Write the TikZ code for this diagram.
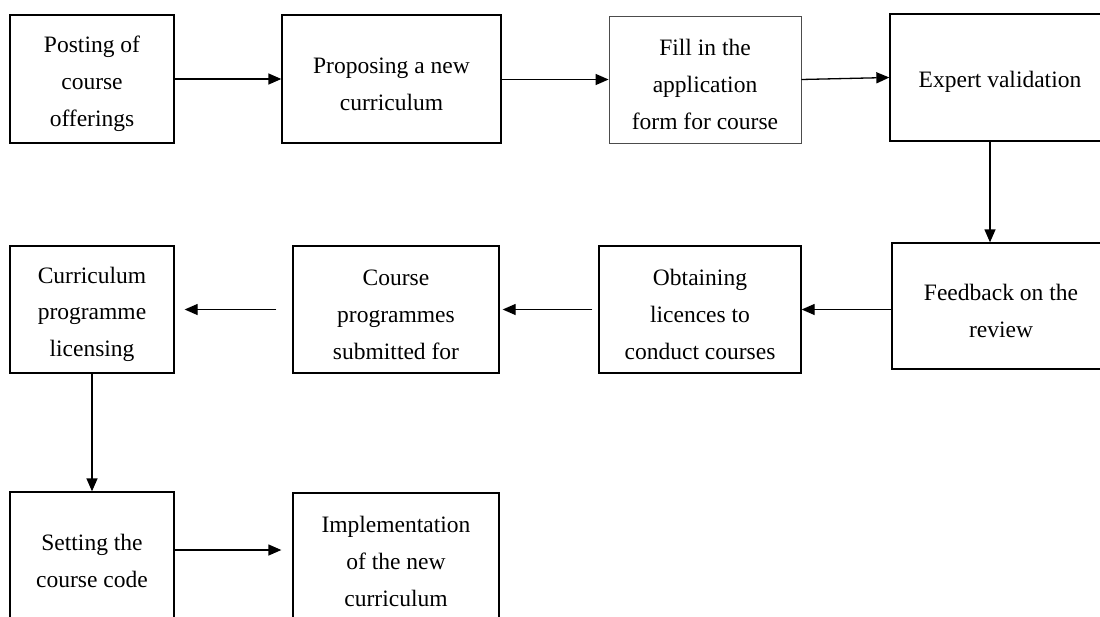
\documentclass[tikz,border=0pt]{standalone}
\usepackage{fontspec}
\setmainfont{Liberation Serif}
\usepackage{tikz}
\usetikzlibrary{arrows.meta,calc}

\newcommand{\stagestrut}{\rule{0pt}{26pt}}

\begin{document}
\begin{tikzpicture}[
  stage/.style={draw,line width=1.3bp,align=center,inner sep=0pt,
    font=\fontsize{23.6}{37}\selectfont},
  flow/.style={-{Triangle[length=13bp,width=11bp]},line width=1.3bp}]

\useasboundingbox (0,0) rectangle (1100bp,-617bp);
\clip (0,0) rectangle (1100bp,-617bp);

\node (post) at (92bp,-79bp)[stage,minimum width=164bp,minimum height=128bp] {\stagestrut Posting of\\course\\offerings};
\node (propose) at (391.5bp,-79bp)[stage,minimum width=219bp,minimum height=128bp] {\stagestrut Proposing a new\\curriculum};
\node (fill) at (705bp,-79.5bp)[stage,draw=black!70,line width=0.8bp,minimum width=192bp,minimum height=127bp] {\stagestrut Fill in the\\application\\form for course};
\node (expert) at (1000bp,-77.5bp)[stage,minimum width=220bp,minimum height=127bp] {\stagestrut Expert validation};
\node (feedback) at (1001bp,-306bp)[stage,minimum width=218bp,minimum height=126bp] {\stagestrut Feedback on the\\review};
\node (obtain) at (700bp,-309.5bp)[stage,minimum width=202bp,minimum height=127bp] {\stagestrut Obtaining\\licences to\\conduct courses};
\node (submit) at (396bp,-309.5bp)[stage,minimum width=206bp,minimum height=127bp] {\stagestrut Course\\programmes\\submitted for};
\node (licensing) at (92bp,-309.5bp)[stage,minimum width=164bp,minimum height=127bp] {\stagestrut Curriculum\\programme\\licensing};
\node (code) at (92bp,-556bp)[stage,minimum width=164bp,minimum height=128bp] {\stagestrut Setting the\\course code};
\node (impl) at (396bp,-557bp)[stage,minimum width=206bp,minimum height=128bp] {\stagestrut Implementation\\of the new\\curriculum};

% top row
\draw [flow] (post) -- (propose);
\draw [flow] (propose.east |- fill) -- (fill);
\draw [flow] (fill.east) -- (expert.west);
\draw [flow] ([xshift=-10bp]expert.south) -- ([xshift=-10bp]expert.south |- feedback.north);

% middle row, right to left
\draw [flow] (feedback.west |- obtain.east) -- (obtain.east);
\draw [flow,shorten <=6bp,shorten >=3bp] (obtain.west) -- (submit.east);
\draw [flow,shorten <=16bp,shorten >=10bp] (submit.west) -- (licensing.east);

% bottom row
\draw [flow] (licensing) -- (code);
\draw [flow,shorten >=11bp] ([yshift=6bp]code.east) -- ([yshift=6bp]code.east -| impl.west);
\end{tikzpicture}
\end{document}
